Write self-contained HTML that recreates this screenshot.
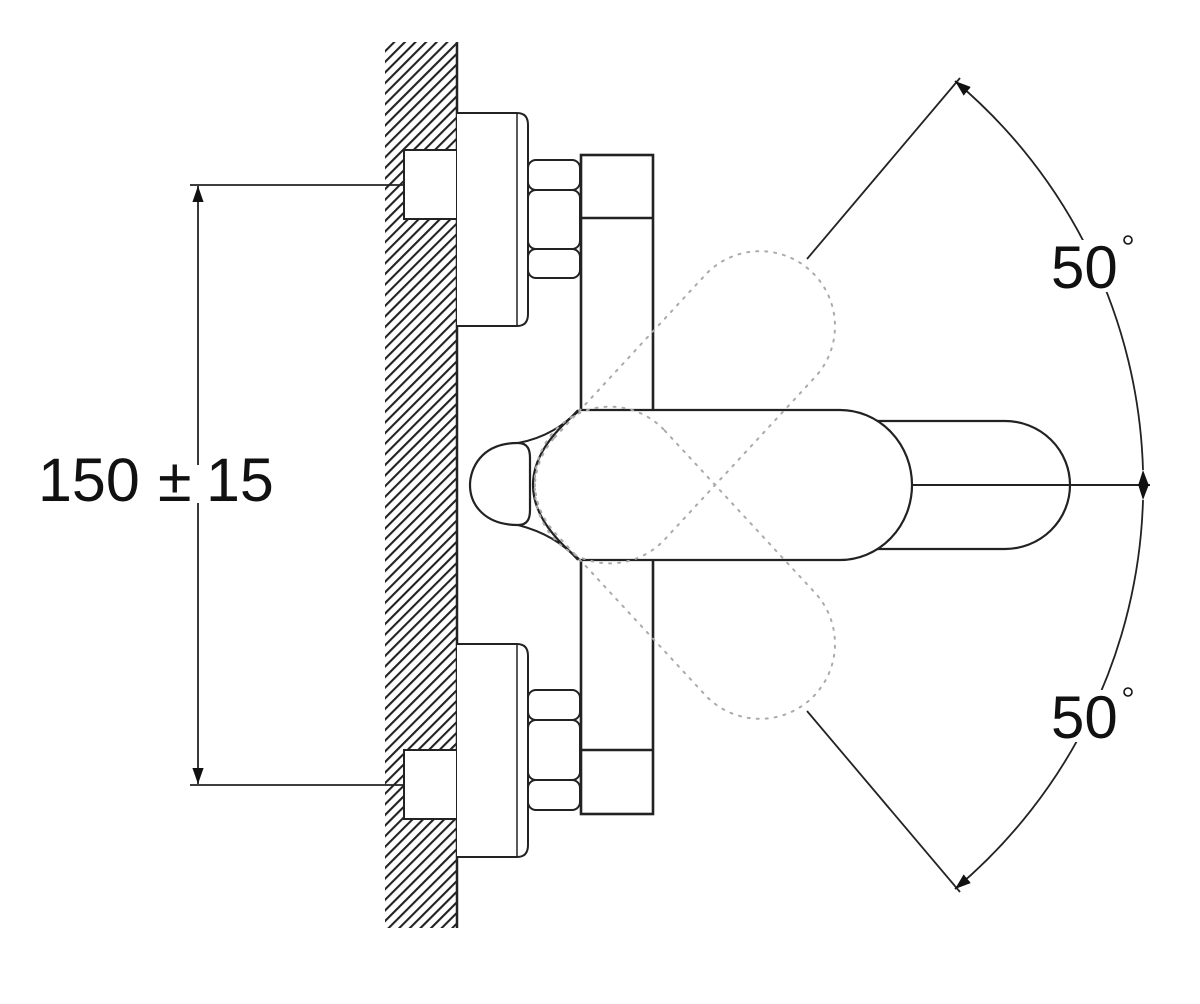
<!DOCTYPE html>
<html><head><meta charset="utf-8"><style>html,body{margin:0;padding:0;background:#fff}svg{display:block}</style></head>
<body>
<svg width="1200" height="1004" viewBox="0 0 1200 1004" xmlns="http://www.w3.org/2000/svg">
<defs>
<pattern id="h" patternUnits="userSpaceOnUse" width="7.5" height="10" patternTransform="rotate(45)">
<line x1="1" y1="0" x2="1" y2="10" stroke="#222" stroke-width="2.2"/>
</pattern>
<marker id="a" viewBox="0 0 10 10" refX="10" refY="5" markerWidth="16" markerHeight="16" markerUnits="userSpaceOnUse" orient="auto"><path d="M0,1.5 L10,5 L0,8.5 Z" fill="#111"/></marker>
</defs>
<g fill="none" stroke="#222" stroke-width="2">
<rect x="385" y="42" width="72" height="886" fill="url(#h)" stroke="none"/>
<line x1="457" y1="42" x2="457" y2="928" stroke-width="2.5"/>
<rect x="404" y="150" width="53" height="69" fill="#fff"/>
<rect x="404" y="750" width="53" height="69" fill="#fff"/>
<path d="M457,113 H517 Q528,113 528,125 V314 Q528,326 517,326 H457" fill="#fff"/>
<line x1="517" y1="113" x2="517" y2="326" stroke-width="1.5"/>
<path d="M457,644 H517 Q528,644 528,656 V845 Q528,857 517,857 H457" fill="#fff"/>
<line x1="517" y1="644" x2="517" y2="857" stroke-width="1.5"/>
<rect x="528" y="160" width="52" height="30" rx="8" fill="#fff"/>
<rect x="528" y="190" width="52" height="59" rx="8" fill="#fff"/>
<rect x="528" y="249" width="52" height="29" rx="8" fill="#fff"/>
<rect x="528" y="690" width="52" height="30" rx="8" fill="#fff"/>
<rect x="528" y="720" width="52" height="60" rx="8" fill="#fff"/>
<rect x="528" y="780" width="52" height="30" rx="8" fill="#fff"/>
<rect x="581" y="155" width="72" height="659" stroke-width="2.6"/>
<line x1="581" y1="218" x2="653" y2="218" stroke-width="2.6"/>
<line x1="581" y1="750" x2="653" y2="750" stroke-width="2.6"/>
<path d="M580,410 L840,410 A72,75 0 0 1 912,485 A72,75 0 0 1 840,560 L580,560 Q486,485 580,410 Z" fill="#fff" stroke-width="2.2"/>
<path d="M877,421 L1005,421 A65,64 0 0 1 1005,549 L877,549" stroke-width="2.2"/>
<line x1="912" y1="485" x2="1150" y2="485" stroke-width="2"/>
<path d="M518,443 C480,443 470,470 470,485 C470,505 485,525 518,525 C528,525 530,518 530,510 L530,458 C530,450 528,443 518,443 Z" fill="#fff" stroke-width="2.2"/>
<path d="M518,443 C545,438 565,425 578,410 M518,525 C545,532 565,545 578,560" stroke-width="2"/>
<g stroke="#aaa" stroke-width="2" stroke-dasharray="2,7" stroke-linecap="round">
<g transform="translate(637,459) rotate(-47.2)">
<path d="M-40,-75 L181,-75 A75,75 0 0 1 181,75 L-40,75 A75,75 0 0 1 -40,-75 Z"/>
</g>
<g transform="translate(637,511) rotate(47.2)">
<path d="M-40,-75 L181,-75 A75,75 0 0 1 181,75 L-40,75 A75,75 0 0 1 -40,-75 Z"/>
</g>
</g>
<line x1="807" y1="259" x2="960" y2="78" stroke-width="1.8"/>
<line x1="807" y1="711" x2="960" y2="892" stroke-width="1.8"/>
<path d="M1143,470 A528,528 0 0 0 955,81" stroke-width="1.8" marker-start="url(#a)" marker-end="url(#a)"/>
<path d="M1143,500 A528,528 0 0 1 955,889" stroke-width="1.8" marker-start="url(#a)" marker-end="url(#a)"/>
<line x1="190" y1="185" x2="404" y2="185" stroke-width="1.8"/>
<line x1="190" y1="785" x2="404" y2="785" stroke-width="1.8"/>
<line x1="198" y1="465" x2="198" y2="186" stroke-width="1.8" marker-end="url(#a)"/>
<line x1="198" y1="503" x2="198" y2="784" stroke-width="1.8" marker-end="url(#a)"/>
</g>
<g font-family="Liberation Sans, sans-serif" fill="#111">
<text x="38" y="501" font-size="61">150</text>
<text x="158" y="501" font-size="61">±</text>
<text x="206" y="501" font-size="61">15</text>
<rect x="1050" y="240" width="72" height="52" fill="#fff"/>
<text x="1051" y="288" font-size="60">50</text>
<circle cx="1128" cy="240" r="4" fill="none" stroke="#111" stroke-width="1.6"/>
<rect x="1050" y="690" width="72" height="52" fill="#fff"/>
<text x="1051" y="738" font-size="60">50</text>
<circle cx="1128" cy="692" r="4" fill="none" stroke="#111" stroke-width="1.6"/>
</g>
</svg>
</body></html>
